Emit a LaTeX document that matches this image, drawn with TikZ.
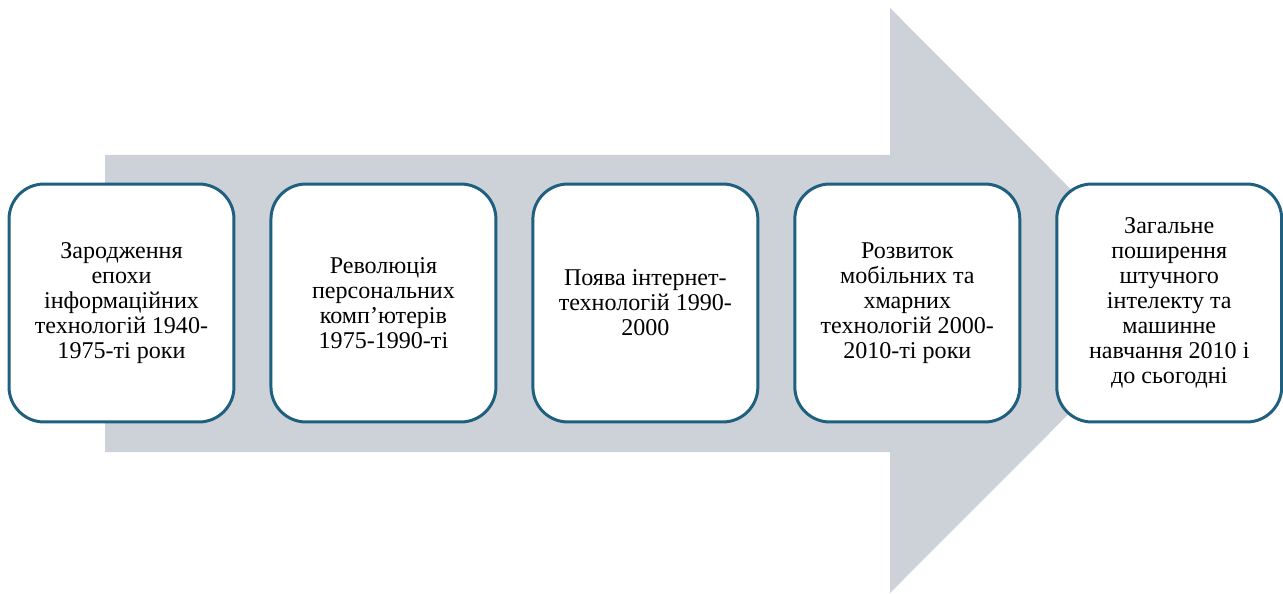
\documentclass[tikz,border=0pt]{standalone}
\usepackage{fontspec}
\setmainfont{Liberation Serif}
\usetikzlibrary{positioning}
\definecolor{arrowgray}{RGB}{205,210,217}
\definecolor{boxblue}{RGB}{31,95,127}
\tikzset{stage/.style={draw=boxblue, line width=1.7pt, fill=white, rounded corners=0.7cm,
  minimum width=4.5cm, minimum height=4.76cm, inner sep=0pt, align=center,
  font=\fontsize{13.7}{14.2}\selectfont}}

\begin{document}
\begin{tikzpicture}[x=0.02cm,y=-0.02cm]
\useasboundingbox (0,0) rectangle (1283,594);

%%% the big arrow behind
\fill[arrowgray] (105,155) -- (890,155) -- (890,8) -- (1182,300.5)
 -- (890,593) -- (890,452) -- (105,452) -- cycle;

%%% the stages
\node[stage] (s1) at (121.5,303) {Зародження\\епохи\\інформаційних\\технологій 1940-\\1975-ті роки};
\node[stage, right=0.68cm of s1] (s2) {Революція\\персональних\\комп’ютерів\\1975-1990-ті};
\node[stage, right=0.68cm of s2] (s3) {Поява інтернет-\\технологій 1990-\\2000};
\node[stage, right=0.68cm of s3] (s4) {Розвиток\\мобільних та\\хмарних\\технологій 2000-\\2010-ті роки};
\node[stage, right=0.68cm of s4] (s5) {Загальне\\поширення\\штучного\\інтелекту та\\машинне\\навчання 2010 і\\до сьогодні};

\end{tikzpicture}
\end{document}
